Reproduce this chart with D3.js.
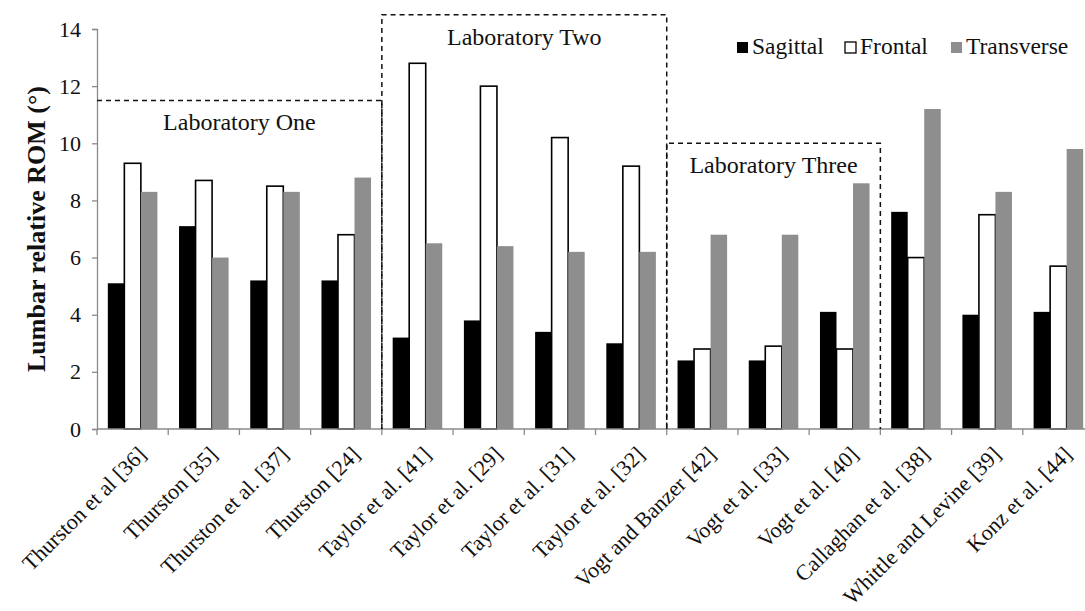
<!DOCTYPE html>
<html>
<head>
<meta charset="utf-8">
<script src="https://cdn.jsdelivr.net/npm/d3@7"></script>
<style>
  body { margin: 0; background: #fff; }
  svg { display: block; }
  svg text { font-family: "Liberation Serif", "Times New Roman", serif; fill: #111; }
</style>
</head>
<body>
<div id="chart"></div>
<script>
const studies = ["Thurston et al [36]", "Thurston [35]", "Thurston et al. [37]", "Thurston [24]",
  "Taylor et al. [41]", "Taylor et al. [29]", "Taylor et al. [31]", "Taylor et al. [32]",
  "Vogt and Banzer [42]", "Vogt et al. [33]", "Vogt et al. [40]", "Callaghan et al. [38]",
  "Whittle and Levine [39]", "Konz et al. [44]"]
const series = ["Sagittal", "Frontal", "Transverse"]
const sagittal = [5.1, 7.1, 5.2, 5.2, 3.2, 3.8, 3.4, 3.0, 2.4, 2.4, 4.1, 7.6, 4.0, 4.1]
const frontal = [9.3, 8.7, 8.5, 6.8, 12.8, 12.0, 10.2, 9.2, 2.8, 2.9, 2.8, 6.0, 7.5, 5.7]
const transverse = [8.3, 6.0, 8.3, 8.8, 6.5, 6.4, 6.2, 6.2, 6.8, 6.8, 8.6, 11.2, 8.3, 9.8]
const yTicks = [0, 2, 4, 6, 8, 10, 12, 14]
// laboratory groups: first and last+1 study index, box top in degrees
const labNames = ["Laboratory One", "Laboratory Two", "Laboratory Three"]
const labStart = [0, 4, 8]
const labEnd = [4, 8, 11]
const labTop = [11.5, 14.5, 10]

const width = 1085, height = 611
const mLeft = 97, mBottom = 429, mTop = 29
const svg = d3.select("#chart").append("svg")
  .attr("width", width).attr("height", height)

const x0 = d3.scaleBand().domain(studies).range([mLeft, 1094])
const bw = x0.bandwidth()
const x1 = d3.scaleBand().domain(series).range([bw * 0.152, bw * 0.848])
const y = d3.scaleLinear().domain([0, 14]).range([mBottom, mTop])

const colors = { Sagittal: "#000", Frontal: "#fff", Transverse: "#8e8e8e" }
const values = { Sagittal: sagittal, Frontal: frontal, Transverse: transverse }

const rows = studies.map((s, i) => ({ study: s, vals: series.map(k => ({ key: k, v: values[k][i] })) }))

// bars
const grp = svg.append("g").selectAll("g").data(rows).enter().append("g")
  .attr("transform", d => `translate(${x0(d.study)},0)`)
grp.selectAll("rect").data(d => d.vals).enter().append("rect")
  .attr("x", d => x1(d.key))
  .attr("width", x1.bandwidth())
  .attr("y", d => y(d.v))
  .attr("height", d => y(0) - y(d.v))
  .attr("fill", d => colors[d.key])
  .attr("stroke", d => d.key === "Frontal" ? "#000" : "none")
  .attr("stroke-width", 1.6)

// y axis
const yAxis = svg.append("g").attr("transform", `translate(${mLeft},0)`)
  .call(d3.axisLeft(y).tickValues(yTicks).tickSize(5).tickPadding(11))
yAxis.attr("font-family", null).attr("font-size", null)
yAxis.select(".domain").attr("stroke", "#8a8a8a").attr("stroke-width", 1.3)
yAxis.selectAll(".tick line").attr("stroke", "#8a8a8a").attr("stroke-width", 1.3)
yAxis.selectAll("text").style("font-size", "22px").attr("fill", null)

svg.append("text")
  .attr("transform", `translate(45,229) rotate(-90)`)
  .attr("text-anchor", "middle")
  .style("font-size", "26px").style("font-weight", "bold")
  .text("Lumbar relative ROM (°)")

// x axis
const xg = svg.append("g")
xg.append("line").attr("x1", mLeft).attr("x2", 1094).attr("y1", mBottom).attr("y2", mBottom)
  .attr("stroke", "#8a8a8a").attr("stroke-width", 1.3)
xg.selectAll("line.tk").data(studies).enter().append("line").attr("class", "tk")
  .attr("x1", d => x0(d)).attr("x2", d => x0(d))
  .attr("y1", mBottom).attr("y2", mBottom + 6)
  .attr("stroke", "#8a8a8a").attr("stroke-width", 1.3)
xg.selectAll("text").data(studies).enter().append("text")
  .attr("transform", d => `translate(${x0(d) + bw / 2 + 4},${mBottom + 16}) rotate(-45)`)
  .attr("text-anchor", "end")
  .attr("dy", "0.7em")
  .style("font-size", "22px")
  .text(d => d)

// laboratory boxes
const labs = labNames.map((n, i) => ({ name: n, a: labStart[i], b: labEnd[i], t: labTop[i] }))
const edge = i => i < studies.length ? x0(studies[i]) : x0(studies[studies.length - 1]) + bw
svg.append("g").selectAll("path").data(labs).enter().append("path")
  .attr("d", d => {
    const xa = edge(d.a), xb = edge(d.b), yt = y(d.t)
    const p = d3.path()
    if (d.a > 0) { p.moveTo(xa, mBottom); p.lineTo(xa, yt) } else p.moveTo(xa, yt)
    p.lineTo(xb, yt); p.lineTo(xb, mBottom)
    return p.toString()
  })
  .attr("fill", "none").attr("stroke", "#111").attr("stroke-width", 1.5)
  .attr("stroke-dasharray", "5,4")
svg.append("g").selectAll("text").data(labs).enter().append("text")
  .attr("x", d => (edge(d.a) + edge(d.b)) / 2)
  .attr("y", d => y(d.t) + 30)
  .attr("text-anchor", "middle")
  .style("font-size", "24px")
  .text(d => d.name)

// legend
const lg = svg.append("g").selectAll("g").data(series).enter().append("g")
  .attr("transform", (d, i) => `translate(${[737, 845, 951][i]},42)`)
lg.append("rect").attr("width", 11).attr("height", 11)
  .attr("fill", d => colors[d])
  .attr("stroke", d => d === "Frontal" ? "#000" : "none").attr("stroke-width", 1.3)
lg.append("text").attr("x", 15).attr("y", 12)
  .style("font-size", "23.5px")
  .text(d => d)
</script>
</body>
</html>
